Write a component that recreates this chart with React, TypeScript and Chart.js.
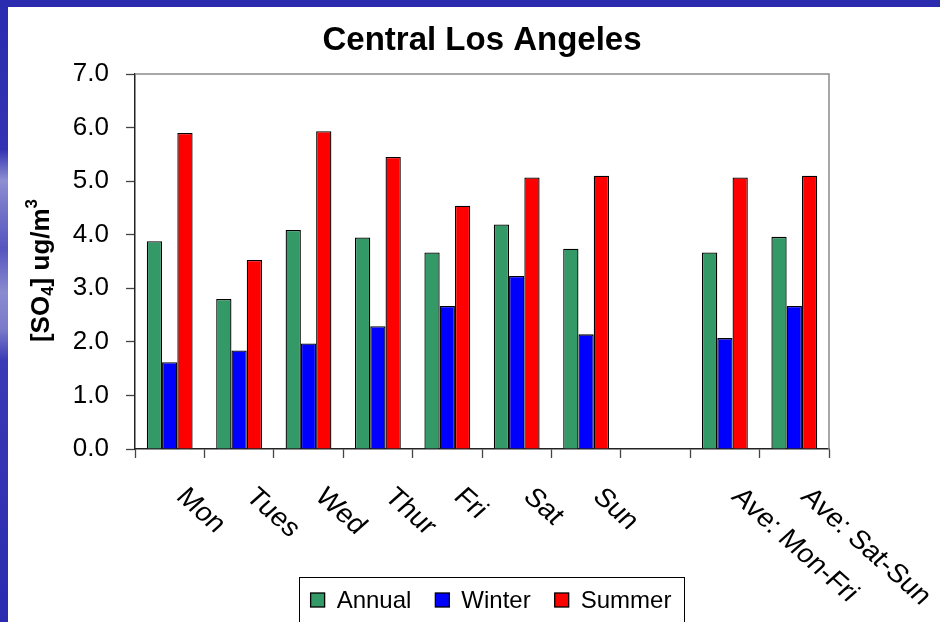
import React, { useEffect, useRef } from "react";
import { Chart, registerables } from "chart.js";

Chart.register(...registerables);

const categories = ["Mon", "Tues", "Wed", "Thur", "Fri", "Sat", "Sun", "", "Ave: Mon-Fri", "Ave: Sat-Sun"];
const annual = [3.88, 2.8, 4.09, 3.95, 3.67, 4.19, 3.74, null, 3.67, 3.96];
const winter = [1.62, 1.84, 1.97, 2.29, 2.67, 3.23, 2.14, null, 2.07, 2.67];
const summer = [5.9, 3.53, 5.93, 5.45, 4.54, 5.07, 5.1, null, 5.07, 5.1];
const seriesNames = ["Annual", "Winter", "Summer"];
const seriesColors = ["#339966", "#0000FF", "#FF0000"];
const titleText = "Central Los Angeles";
const yMin = 0;
const yMax = 7;
const yStep = 1;

const FONT = '"Liberation Sans", Arial, Helvetica, sans-serif';

const framePlugin = {
  id: "frame",
  beforeDraw(chart: any) {
    const { ctx, width, height } = chart;
    ctx.save();
    ctx.fillStyle = "#2b2bb0";
    ctx.fillRect(0, 0, width, height);
    const g = ctx.createLinearGradient(0, 0, 0, height);
    g.addColorStop(0, "#2b2bb0");
    g.addColorStop(0.24, "#3232b2");
    g.addColorStop(0.29, "#8e8ed2");
    g.addColorStop(0.34, "#7272c8");
    g.addColorStop(0.4, "#5555bf");
    g.addColorStop(0.47, "#8a8ad0");
    g.addColorStop(0.53, "#7a7aca");
    g.addColorStop(0.58, "#3a3ab6");
    g.addColorStop(1, "#2b2bb0");
    ctx.fillStyle = g;
    ctx.fillRect(0, 7, 8, height - 7);
    ctx.fillStyle = "#ffffff";
    ctx.fillRect(8, 7, width - 8, height - 7);
    ctx.restore();
  },
};

const decorPlugin = {
  id: "decor",
  afterDraw(chart: any) {
    const { ctx, chartArea } = chart;
    const xs = chart.scales.x;
    ctx.save();
    // plot-area top and right border
    ctx.strokeStyle = "#8a8a8a";
    ctx.lineWidth = 1.5;
    ctx.beginPath();
    ctx.moveTo(chartArea.left, chartArea.top);
    ctx.lineTo(chartArea.right, chartArea.top);
    ctx.lineTo(chartArea.right, chartArea.bottom);
    ctx.stroke();

    // rotated category labels
    ctx.fillStyle = "#000";
    ctx.font = `26px ${FONT}`;
    ctx.textAlign = "left";
    ctx.textBaseline = "middle";
    categories.forEach((lab, i) => {
      if (!lab) return;
      const px = xs.getPixelForTick(i);
      ctx.save();
      ctx.translate(px + 11, xs.top + 44);
      ctx.scale(1.12, 1);
      ctx.rotate(Math.PI / 4);
      ctx.fillText(lab, 0, 0);
      ctx.restore();
    });

    // y-axis title with subscript/superscript
    const big = `bold 26px ${FONT}`;
    const small = `bold 17px ${FONT}`;
    const parts: [string, string, number][] = [
      ["[SO", big, 0],
      ["4", small, 6],
      ["] ug/m", big, 0],
      ["3", small, -10],
    ];
    let total = 0;
    parts.forEach(([t, f]) => {
      ctx.font = f;
      total += ctx.measureText(t).width;
    });
    ctx.save();
    ctx.translate(42, (chartArea.top + chartArea.bottom) / 2 + 9);
    ctx.rotate(-Math.PI / 2);
    ctx.textAlign = "left";
    ctx.textBaseline = "middle";
    let cx = -total / 2;
    parts.forEach(([t, f, dy]) => {
      ctx.font = f;
      ctx.fillText(t, cx, dy);
      cx += ctx.measureText(t).width;
    });
    ctx.restore();

    // legend box
    ctx.font = `24px ${FONT}`;
    const sq = 14;
    const gapSq = 12;
    const gapItem = 24;
    const widths = seriesNames.map((n) => ctx.measureText(n).width);
    const totalW = widths.reduce((a, w) => a + sq + gapSq + w, 0) + gapItem * (seriesNames.length - 1);
    const center = (chartArea.left + chartArea.right) / 2 + 9;
    const startX = center - totalW / 2;
    const boxTop = 577;
    ctx.strokeStyle = "#000";
    ctx.lineWidth = 1;
    ctx.strokeRect(Math.round(startX - 12) + 0.5, boxTop + 0.5, Math.round(totalW + 24), 60);
    let lx = startX;
    const cy = 600;
    seriesNames.forEach((n, i) => {
      ctx.fillStyle = seriesColors[i];
      ctx.fillRect(lx, cy - sq / 2, sq, sq);
      ctx.strokeStyle = "#000";
      ctx.lineWidth = 1.3;
      ctx.strokeRect(lx, cy - sq / 2, sq, sq);
      ctx.fillStyle = "#000";
      ctx.textAlign = "left";
      ctx.textBaseline = "middle";
      ctx.fillText(n, lx + sq + gapSq, cy + 1);
      lx += sq + gapSq + widths[i] + gapItem;
    });
    ctx.restore();
  },
};

export default function App() {
  const canvasRef = useRef<HTMLCanvasElement | null>(null);

  useEffect(() => {
    document.body.style.margin = "0";
    const canvas = canvasRef.current;
    if (!canvas) return;
    const series = [annual, winter, summer];
    const chart = new Chart(canvas, {
      type: "bar",
      data: {
        labels: categories,
        datasets: seriesNames.map((name, i) => ({
          label: name,
          data: series[i],
          backgroundColor: seriesColors[i],
          borderColor: "#000000",
          borderWidth: 1.3,
          barPercentage: 1,
          categoryPercentage: 0.66,
        })),
      },
      options: {
        responsive: false,
        animation: false,
        devicePixelRatio: 1,
        layout: { padding: { left: 8, top: 21, right: 111, bottom: 0 } },
        plugins: {
          legend: { display: false },
          tooltip: { enabled: false },
          title: {
            display: true,
            text: titleText,
            color: "#000",
            fullSize: false,
            font: { family: FONT, size: 33, weight: "bold", lineHeight: 1.2 },
            padding: { top: 0, bottom: 13.4 },
          },
        },
        scales: {
          x: {
            type: "category",
            offset: true,
            grid: {
              offset: true,
              drawOnChartArea: false,
              drawTicks: true,
              tickLength: 9,
              tickColor: "#444",
              tickWidth: 1.3,
            },
            border: { display: true, color: "#222", width: 1.5 },
            ticks: { display: false },
            afterFit(scale: any) {
              scale.height = 173;
            },
          },
          y: {
            min: yMin,
            max: yMax,
            grid: {
              drawOnChartArea: false,
              drawTicks: true,
              tickLength: 9,
              tickColor: "#444",
              tickWidth: 1.3,
            },
            border: { display: true, color: "#222", width: 1.5 },
            ticks: {
              stepSize: yStep,
              color: "#000",
              padding: 17,
              font: { family: FONT, size: 26 },
              callback: (v: any) => Number(v).toFixed(1),
            },
            afterFit(scale: any) {
              scale.width = 127;
            },
          },
        },
      },
      plugins: [framePlugin, decorPlugin],
    });
    return () => chart.destroy();
  }, []);

  return (
    <div style={{ width: 940, height: 622, overflow: "hidden" }}>
      <canvas ref={canvasRef} width={940} height={622} style={{ display: "block", width: 940, height: 622 }} />
    </div>
  );
}
